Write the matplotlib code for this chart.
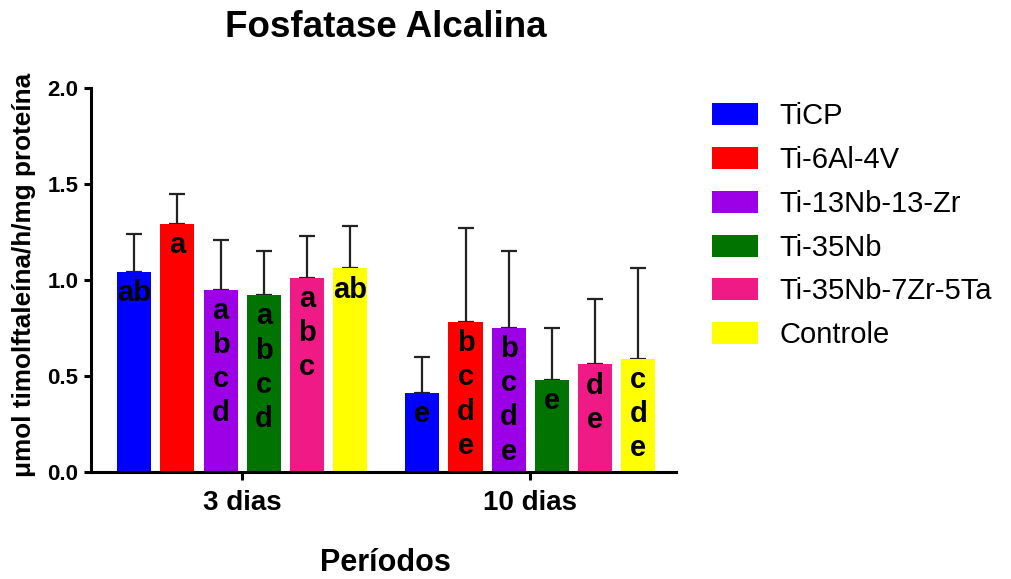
import numpy as np
import matplotlib
matplotlib.use("Agg")
import matplotlib.pyplot as plt

plt.rcParams['font.family'] = ['Liberation Sans', 'DejaVu Sans']

# data
periods = ["3 dias", "10 dias"]
groups = ["TiCP", "Ti-6Al-4V", "Ti-13Nb-13-Zr", "Ti-35Nb", "Ti-35Nb-7Zr-5Ta", "Controle"]
means_3 = [1.04, 1.29, 0.95, 0.92, 1.01, 1.06]
means_10 = [0.41, 0.78, 0.75, 0.48, 0.56, 0.59]
upper_3 = [1.24, 1.45, 1.21, 1.15, 1.23, 1.28]
upper_10 = [0.60, 1.27, 1.15, 0.75, 0.90, 1.06]
letters_3 = [["ab"], ["a"], ["a", "b", "c", "d"], ["a", "b", "c", "d"], ["a", "b", "c"], ["ab"]]
letters_10 = [["e"], ["b", "c", "d", "e"], ["b", "c", "d", "e"], ["e"], ["d", "e"], ["c", "d", "e"]]
colors = ["#0000FF", "#FF0000", "#9B00E6", "#007300", "#F01A86", "#FFFF00"]

fig = plt.figure(figsize=(10.11, 5.79), dpi=100)
ax = fig.add_axes([0.09, 0.185, 0.579, 0.663])

group_pos = np.array([0.0, 6.67])
offsets = np.arange(6) - 2.5
width = 0.79

means = [means_3, means_10]
uppers = [upper_3, upper_10]
letters = [letters_3, letters_10]

for g in range(2):
    for i in range(6):
        x = group_pos[g] + offsets[i]
        m = means[g][i]
        ax.bar(x, m, width=width, color=colors[i], zorder=2,
               label=groups[i] if g == 0 else None)
        # only the upper half of the error bar is shown
        ax.errorbar(x, m, yerr=[[0], [uppers[g][i] - m]], fmt='none',
                    ecolor='#222222', elinewidth=1.6, capsize=6, capthick=1.6, zorder=1)
        for k, s in enumerate(letters[g][i]):
            ax.text(x, m - 0.11 - 0.178 * k, s, ha='center', va='center',
                    fontsize=21, fontweight='bold', color='black', zorder=3)

ax.set_xlim(-3.5, 10.05)
ax.set_ylim(0, 2.0)
ax.set_yticks([0.0, 0.5, 1.0, 1.5, 2.0])
ax.set_yticklabels(["0.0", "0.5", "1.0", "1.5", "2.0"])
ax.set_xticks(group_pos)
ax.set_xticklabels(periods)

for side in ['top', 'right']:
    ax.spines[side].set_visible(False)
for side in ['left', 'bottom']:
    ax.spines[side].set_linewidth(2.2)

ax.tick_params(axis='y', length=5, width=2.2, labelsize=16, pad=4)
ax.tick_params(axis='x', length=6, width=2.2, labelsize=20, pad=7)
for lbl in ax.get_xticklabels() + ax.get_yticklabels():
    lbl.set_fontweight('bold')

ax.set_ylabel("μmol timolftaleína/h/mg proteína", fontsize=18.8, fontweight='bold')
ax.yaxis.set_label_coords(-0.094, 0.513)
fig.text(0.381, 0.002, "Períodos", ha='center', va='bottom',
         fontsize=22, fontweight='bold')
fig.text(0.382, 0.952, "Fosfatase Alcalina", ha='center', va='center',
         fontsize=26.5, fontweight='bold')

leg = fig.legend(loc='upper left', bbox_to_anchor=(0.704, 0.823), frameon=False,
                 borderpad=0, borderaxespad=0,
                 fontsize=21, handlelength=1.58, handleheight=0.79,
                 handletextpad=0.75, labelspacing=0.54)

fig.savefig("out.png", dpi=100)
